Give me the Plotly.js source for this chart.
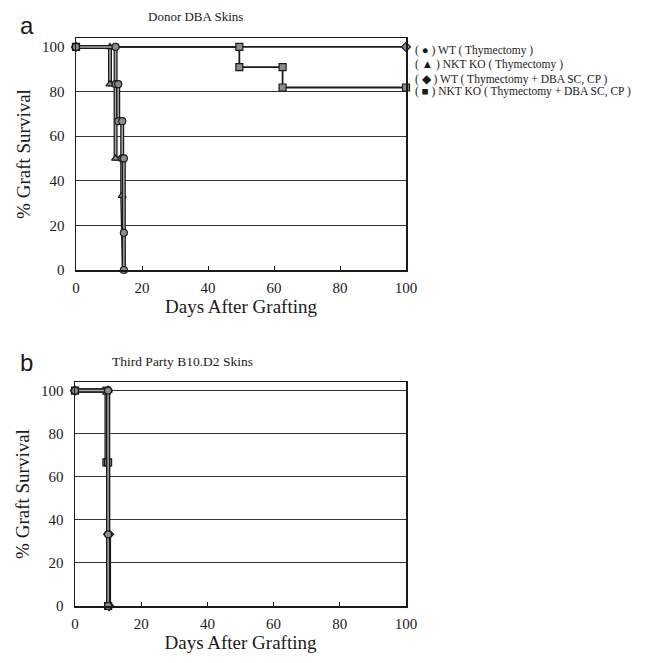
<!DOCTYPE html>
<html>
<head>
<meta charset="utf-8">
<script src="https://cdn.plot.ly/plotly-3.0.1.min.js"></script>
<style>
  html, body { margin: 0; padding: 0; background: #ffffff; }
  #chart { width: 653px; height: 663px; }
</style>
</head>
<body>
<div id="chart"></div>
<script>
// Group names and their marker symbols
const groupNames = [
  "WT ( Thymectomy )",
  "NKT KO ( Thymectomy )",
  "WT ( Thymectomy + DBA SC, CP )",
  "NKT KO ( Thymectomy + DBA SC, CP )"
];
const groupSymbols = ["circle", "triangle-up", "diamond", "square"];
const groupGlyphs = ["●", "▲", "◆", "■"];

// Panel a: donor DBA skin grafts (days, % survival)
const aWtThyDays   = [0, 12, 12, 12.8, 12.8, 14, 14, 14.5, 14.5, 14.5];
const aWtThySurv   = [100, 100, 83.3, 83.3, 66.7, 66.7, 50, 50, 16.7, 0];
const aKoThyDays   = [0, 10.3, 10.3, 12, 12, 14, 14, 14.5];
const aKoThySurv   = [100, 100, 83.3, 83.3, 50, 50, 33.3, 0];
const aWtTolDays   = [0, 100];
const aWtTolSurv   = [100, 100];
const aKoTolDays   = [0, 49.5, 49.5, 62.6, 62.6, 100];
const aKoTolSurv   = [100, 100, 90.9, 90.9, 81.8, 81.8];

// Panel b: third party B10.D2 skin grafts
const bWtThyDays   = [0, 10, 10, 10];
const bWtThySurv   = [100, 100, 33.3, 0];
const bKoThyDays   = [0, 10, 10];
const bKoThySurv   = [100, 100, 0];
const bWtTolDays   = [0, 10, 10, 10.3, 10.3];
const bWtTolSurv   = [100, 100, 33.3, 33.3, 0];
const bKoTolDays   = [0, 9.5, 9.5, 10, 10];
const bKoTolSurv   = [100, 100, 66.7, 66.7, 0];

// Axis ticks
const dayTicks  = [0, 20, 40, 60, 80, 100];
const survTicks = [0, 20, 40, 60, 80, 100];

const SERIF = "Liberation Serif, Times New Roman, serif";
const INK = "#1a1a1a";

// Build one group: optional grey-cored "cased" line, then markers
function groupTraces(days, surv, idx, xa, ya, cased) {
  const out = [];
  if (cased) {
    out.push({ x: days, y: surv, xaxis: xa, yaxis: ya, type: "scatter", mode: "lines",
      line: { color: INK, width: 4 }, hoverinfo: "skip",
      showlegend: false, cliponaxis: false });
    out.push({ x: days, y: surv, xaxis: xa, yaxis: ya, type: "scatter", mode: "lines",
      line: { color: "#a8a8a8", width: 1.5 }, hoverinfo: "skip",
      showlegend: false, cliponaxis: false });
    out.push({ x: days, y: surv, xaxis: xa, yaxis: ya, type: "scatter", mode: "markers",
      name: groupNames[idx], showlegend: false, cliponaxis: false,
      marker: { symbol: groupSymbols[idx], size: 7, color: "#8c8c8c",
        line: { color: INK, width: 1.2 } } });
  } else {
    out.push({ x: days, y: surv, xaxis: xa, yaxis: ya, type: "scatter", mode: "lines+markers",
      name: groupNames[idx], showlegend: false, cliponaxis: false,
      line: { color: INK, width: 1.8 },
      marker: { symbol: groupSymbols[idx], size: 7, color: "#8c8c8c",
        line: { color: INK, width: 1.2 } } });
  }
  return out;
}

const data = [].concat(
  groupTraces(aWtTolDays, aWtTolSurv, 2, "x", "y", false),
  groupTraces(aKoTolDays, aKoTolSurv, 3, "x", "y", false),
  groupTraces(aKoThyDays, aKoThySurv, 1, "x", "y", true),
  groupTraces(aWtThyDays, aWtThySurv, 0, "x", "y", true),
  groupTraces(bKoThyDays, bKoThySurv, 1, "x2", "y2", true),
  groupTraces(bKoTolDays, bKoTolSurv, 3, "x2", "y2", true),
  groupTraces(bWtTolDays, bWtTolSurv, 2, "x2", "y2", true),
  groupTraces(bWtThyDays, bWtThySurv, 0, "x2", "y2", true)
);

function xAxis(domain, anchor) {
  return {
    domain: domain, anchor: anchor, range: [0, 100], tickvals: dayTicks,
    ticktext: dayTicks.map(String), ticks: "inside", ticklen: 4, tickcolor: INK,
    showgrid: false, zeroline: false, showline: true, linecolor: INK, linewidth: 1.5,
    mirror: true, ticklabelstandoff: 3,
    tickfont: { family: SERIF, size: 15, color: INK },
    title: { text: "Days After Grafting", font: { family: SERIF, size: 19, color: INK }, standoff: 5 }
  };
}
function yAxis(domain, anchor) {
  return {
    domain: domain, anchor: anchor, range: [0, 104], tickvals: survTicks,
    ticktext: survTicks.map(String), ticks: "", showgrid: true, gridcolor: "#333333",
    gridwidth: 1, zeroline: false, showline: true, linecolor: INK, linewidth: 1.5,
    mirror: true, ticklabelstandoff: 7,
    tickfont: { family: SERIF, size: 15, color: INK },
    title: { text: "% Graft Survival", font: { family: SERIF, size: 19, color: INK }, standoff: 6 }
  };
}

const annotations = [
  { text: "a", x: 0.028, y: 0.985, xref: "paper", yref: "paper", xanchor: "left", yanchor: "top",
    showarrow: false, font: { family: "Liberation Sans, Arial, sans-serif", size: 24, color: INK } },
  { text: "b", x: 0.028, y: 0.476, xref: "paper", yref: "paper", xanchor: "left", yanchor: "top",
    showarrow: false, font: { family: "Liberation Sans, Arial, sans-serif", size: 24, color: INK } },
  { text: "Donor DBA Skins", x: 0.30, y: 0.99, xref: "paper", yref: "paper", xanchor: "center", yanchor: "top",
    showarrow: false, font: { family: SERIF, size: 13, color: INK } },
  { text: "Third Party B10.D2 Skins", x: 0.28, y: 0.469, xref: "paper", yref: "paper", xanchor: "center", yanchor: "top",
    showarrow: false, font: { family: SERIF, size: 13.5, color: INK } }
];
// Legend rows drawn as text beside panel a
const legendRowsY = [51, 65, 79, 92];
groupNames.forEach(function (name, i) {
  annotations.push({
    text: "( " + groupGlyphs[i] + " ) " + name,
    x: 413 / 653, y: 1 - legendRowsY[i] / 663, xref: "paper", yref: "paper",
    xanchor: "left", yanchor: "middle", showarrow: false,
    font: { family: SERIF, size: 11.5, color: INK }
  });
});

const layout = {
  width: 653, height: 663,
  margin: { l: 0, r: 0, t: 0, b: 0 },
  paper_bgcolor: "#ffffff", plot_bgcolor: "#ffffff",
  showlegend: false,
  xaxis: xAxis([76 / 653, 406 / 653], "y"),
  yaxis: yAxis([1 - 270 / 663, 1 - 38 / 663], "x"),
  xaxis2: xAxis([75 / 653, 406 / 653], "y2"),
  yaxis2: yAxis([1 - 606 / 663, 1 - 382 / 663], "x2"),
  annotations: annotations
};

Plotly.newPlot("chart", data, layout, { displayModeBar: false, staticPlot: true });
</script>
</body>
</html>
